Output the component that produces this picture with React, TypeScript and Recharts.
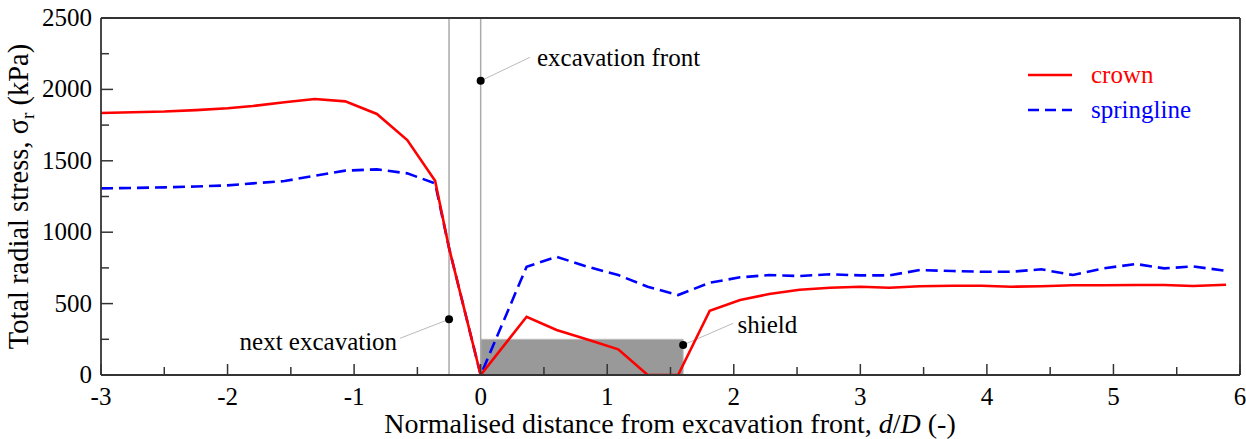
import { LineChart, Line, XAxis, YAxis, Legend, ReferenceLine, ReferenceArea, ReferenceDot } from 'recharts';

// normalised distance d/D of the sampled points
const distance = [
  -3, -2.75, -2.5, -2.25, -2.0, -1.8, -1.55, -1.31, -1.07, -0.82, -0.58, -0.36, -0.25, 0,
  0.363, 0.6, 0.837, 1.087, 1.32, 1.56, 1.81, 2.05, 2.28, 2.52, 2.76, 3.0, 3.23, 3.47,
  3.73, 3.96, 4.19, 4.43, 4.68, 4.92, 5.18, 5.4, 5.63, 5.89,
];

// total radial stress (kPa)
const crown = [
  1835, 1840, 1845, 1855, 1868, 1884, 1910, 1933, 1916, 1828, 1645, 1360, 890, 0,
  408, 315, 250, 180, 0, 0, 450, 525, 567, 597, 611, 618, 611, 621,
  625, 625, 618, 622, 628, 628, 630, 630, 623, 632,
];

const springline = [
  1307, 1310, 1314, 1320, 1328, 1342, 1358, 1396, 1431, 1440, 1412, 1342, 890, 0,
  758, 828, 760, 700, 618, 560, 646, 684, 700, 693, 705, 698, 698, 735,
  728, 723, 723, 740, 700, 747, 777, 747, 760, 730,
];

const xTicks = [-3, -2.5, -2, -1.5, -1, -0.5, 0, 0.5, 1, 1.5, 2, 2.5, 3, 3.5, 4, 4.5, 5, 5.5, 6];
const yTicks = [0, 250, 500, 750, 1000, 1250, 1500, 1750, 2000, 2250, 2500];

const data = distance.map((d, i) => ({ d, crown: crown[i], springline: springline[i] }));

const FONT = '"Liberation Serif", serif';
const AXIS = '#333';
const txt = { fontFamily: FONT };

const XTick = (props: any) => {
  const { x, y, payload } = props;
  const major = Number.isInteger(payload.value);
  return (
    <g>
      <line x1={x} y1={y} x2={x} y2={y - (major ? 11 : 8)} stroke={AXIS} strokeWidth={1.5} />
      {major && (
        <text x={x} y={y + 30} textAnchor="middle" style={txt} fontSize={25} fill="#000">
          {payload.value}
        </text>
      )}
    </g>
  );
};

const YTick = (props: any) => {
  const { x, y, payload } = props;
  const major = payload.value % 500 === 0;
  return (
    <g>
      <line x1={x} y1={y} x2={x + (major ? 12 : 8)} y2={y} stroke={AXIS} strokeWidth={1.5} />
      {major && (
        <text x={x - 9} y={y + 8} textAnchor="end" style={txt} fontSize={25} fill="#000">
          {payload.value}
        </text>
      )}
    </g>
  );
};

const renderLegend = () => (
  <svg width={210} height={60} style={{ overflow: 'visible', display: 'block' }}>
    <line x1={3} y1={13} x2={47} y2={13} stroke="#ff0000" strokeWidth={2.5} />
    <text x={66} y={21} style={txt} fontSize={25} fill="#ff0000">crown</text>
    <line x1={3} y1={48} x2={47} y2={48} stroke="#0000ff" strokeWidth={2.5} strokeDasharray="11 6" />
    <text x={66} y={56} style={txt} fontSize={25} fill="#0000ff">springline</text>
  </svg>
);

const note = (value: string, position: 'left' | 'right') => ({
  value,
  position,
  offset: 0,
  fill: '#000',
  fontFamily: FONT,
  style: txt,
  fontSize: 25,
});

export default function App() {
  return (
    <div style={{ position: 'absolute', left: 0, top: 0 }}>
      <LineChart width={1246} height={439} data={data} margin={{ top: 18, right: 6, left: 0, bottom: 0 }}>
        <XAxis
          dataKey="d"
          type="number"
          domain={[-3, 6]}
          ticks={xTicks}
          interval={0}
          tick={<XTick />}
          tickLine={false}
          tickSize={0}
          tickMargin={0}
          height={64}
          stroke={AXIS}
          strokeWidth={1.8}
          allowDataOverflow
          label={() => (
            <text x={670} y={433} textAnchor="middle" style={txt} fontSize={28} fill="#000">
              Normalised distance from excavation front, <tspan fontStyle="italic">d</tspan>/<tspan fontStyle="italic">D</tspan> (-)
            </text>
          )}
        />
        <YAxis
          type="number"
          domain={[0, 2500]}
          ticks={yTicks}
          interval={0}
          tick={<YTick />}
          tickLine={false}
          tickSize={0}
          tickMargin={0}
          width={101}
          stroke={AXIS}
          strokeWidth={1.8}
          allowDataOverflow
          label={() => (
            <text
              x={0}
              y={0}
              transform="translate(28 196.5) rotate(-90)"
              textAnchor="middle"
              style={txt}
              fontSize={28.5}
              fill="#000"
            >
              Total radial stress, σ<tspan fontSize={19} dy={6}>r</tspan><tspan dy={-6}> (kPa)</tspan>
            </text>
          )}
        />
        <ReferenceArea x1={0} x2={1.6} y1={0} y2={250} fill="#999" fillOpacity={1} stroke="#bbb" strokeWidth={1} />
        <ReferenceLine x={-0.25} stroke="#aaa" strokeWidth={1.5} />
        <ReferenceLine x={0} stroke="#aaa" strokeWidth={1.5} />
        <ReferenceLine y={2500} stroke={AXIS} strokeWidth={1.8} />
        <ReferenceLine x={6} stroke={AXIS} strokeWidth={1.8} />
        <ReferenceLine segment={[{ x: 0, y: 2060 }, { x: 0.39, y: 2225 }]} stroke="#bbb" strokeWidth={1} />
        <ReferenceLine segment={[{ x: -0.25, y: 390 }, { x: -0.637, y: 257 }]} stroke="#bbb" strokeWidth={1} />
        <ReferenceLine segment={[{ x: 1.6, y: 210 }, { x: 1.995, y: 362 }]} stroke="#bbb" strokeWidth={1} />
        <Line
          type="linear"
          dataKey="springline"
          stroke="#0000ff"
          strokeWidth={2.6}
          strokeDasharray="12 6"
          dot={false}
          isAnimationActive={false}
        />
        <Line type="linear" dataKey="crown" stroke="#ff0000" strokeWidth={2.6} dot={false} isAnimationActive={false} />
        <ReferenceDot x={0} y={2060} r={4} fill="#000" stroke="none" />
        <ReferenceDot x={-0.25} y={390} r={4} fill="#000" stroke="none" />
        <ReferenceDot x={1.6} y={210} r={4} fill="#000" stroke="none" />
        <ReferenceDot x={0.445} y={2227} r={0} stroke="none" label={note('excavation front', 'right')} />
        <ReferenceDot x={-0.66} y={238} r={0} stroke="none" label={note('next excavation', 'left')} />
        <ReferenceDot x={2.03} y={357} r={0} stroke="none" label={note('shield', 'right')} />
        <Legend
          content={renderLegend}
          wrapperStyle={{ position: 'absolute', left: 1025, top: 62, width: 0, height: 0, overflow: 'visible' }}
        />
      </LineChart>
    </div>
  );
}
